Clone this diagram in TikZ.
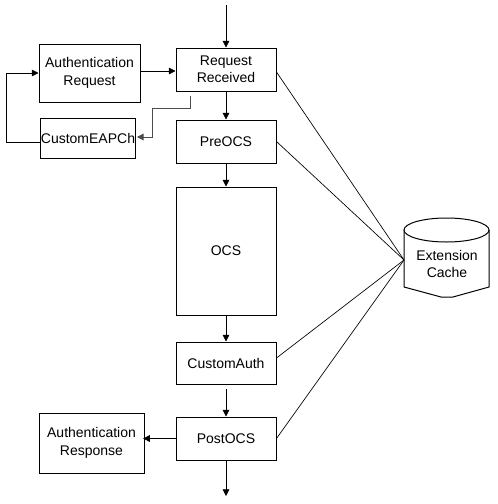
\documentclass[tikz,border=0pt]{standalone}
\usepackage{fontspec}
\setmainfont{Liberation Sans}
\usetikzlibrary{arrows.meta,shadows}
\begin{document}
\begin{tikzpicture}[x=0.75pt,y=-0.75pt,
  box/.style={draw,fill=white,line width=0.75pt,inner sep=0pt,align=center,font=\fontsize{10.5}{13}\selectfont,
    drop shadow={opacity=0.2,shadow xshift=1pt,shadow yshift=-1pt}},
  arr/.style={-{Triangle[length=5pt,width=5pt]},line width=0.6pt},
  lnk/.style={line width=0.5pt}]
\useasboundingbox (0,0) rectangle (498,504);
% nodes
\node[box,minimum width=75.75pt,minimum height=43.5pt] (areq) at (89.5,73) {Authentication\\Request};
\node[box,minimum width=75pt,minimum height=32.25pt] (rr) at (226,69.5) {Request\\Received};
\node[box,minimum width=70.5pt,minimum height=30pt] (ceap) at (88,138) {CustomEAPCh};
\node[box,minimum width=75pt,minimum height=32.25pt] (pre) at (226,141.5) {PreOCS};
\node[box,minimum width=75pt,minimum height=96pt] (ocs) at (226,251) {OCS};
\node[box,minimum width=75pt,minimum height=31.5pt] (cauth) at (226,363) {CustomAuth};
\node[box,minimum width=75pt,minimum height=32.25pt] (post) at (226,438.5) {PostOCS};
\node[box,minimum width=78.75pt,minimum height=45pt] (aresp) at (91.5,443) {Authentication\\Response};
% cache shape
\draw[line width=0.75pt,fill=white] (404,230) -- (404,287) -- (441,297) -- (453,297) -- (489,287) -- (489,230);
\draw[line width=0.75pt,fill=white] (446.5,230) ellipse [x radius=42.5, y radius=12];
\node[font=\fontsize{10.5}{13}\selectfont,align=center] (cache) at (447,264) {Extension\\Cache};
\coordinate (hub) at (404,260);
% coordinates for free ends
\coordinate (top) at (226,5);
\coordinate (bot) at (226,496);
% arrows
\draw[arr] (top) -- (rr.north);
\draw[arr] (rr.south) -- (pre.north);
\draw[arr] (pre.south) -- (ocs.north);
\draw[arr] (ocs.south) -- (cauth.north);
\draw[arr] ([yshift=-3.5pt]cauth.south) -- (post.north);
\draw[arr] (post.south) -- (bot);
\draw[arr] (post.west) -- ([xshift=-1pt]aresp.east |- post.west);
\draw[arr] (areq.east |- 0,71) -- (rr.west |- 0,71);
\draw[arr] (ceap.west |- 0,142) -- (6,142) -- (6,73) -- (areq.west |- 0,73);
\draw[arr,draw=black!70] ([yshift=-3pt]rr.south west -| 190,0) -- (190,108) -- (152,108) -- (152,137) -- ([xshift=1pt]ceap.east |- 0,137);
% links to cache
\draw[lnk] (rr.east |- 0,72) -- (hub);
\draw[lnk] (pre.east) -- (hub);
\draw[lnk] (cauth.east |- 0,358) -- (hub);
\draw[lnk] (post.east) -- (hub);
\end{tikzpicture}
\end{document}
